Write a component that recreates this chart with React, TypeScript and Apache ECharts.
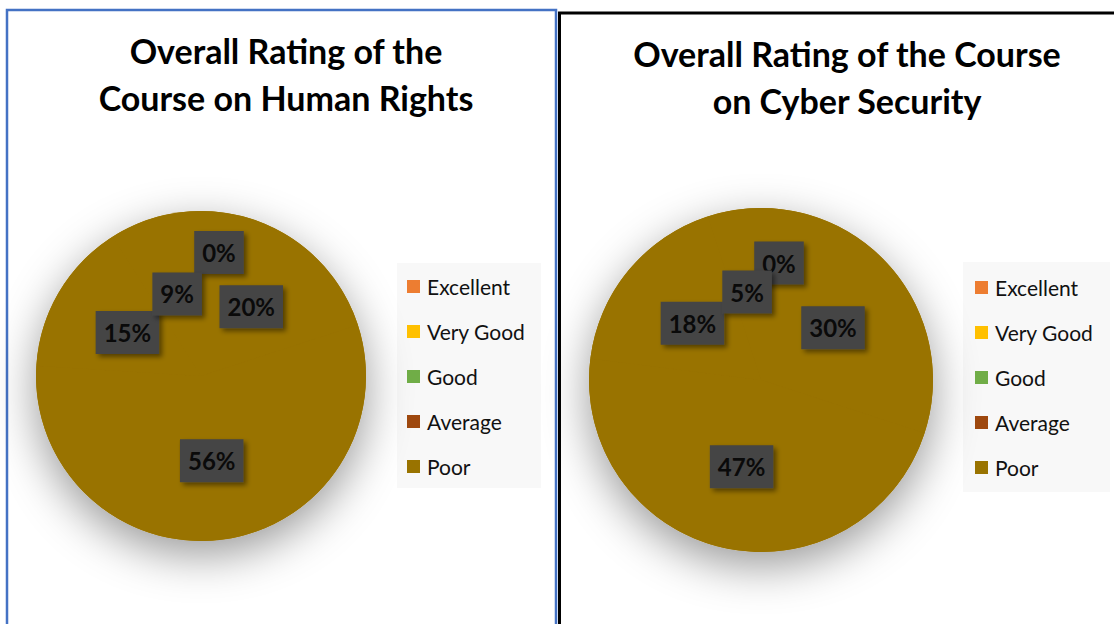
import React, { useEffect, useRef } from "react";
import * as echarts from "echarts";

const categories = ["Excellent", "Very Good", "Good", "Average", "Poor"];
const legendColors = ["#ED7D31", "#FFC000", "#70AD47", "#9E480E", "#997300"];
const humanRightsValues = [0, 20, 56, 15, 9];
const cyberSecurityValues = [0, 30, 47, 18, 5];
const titles = [
  "Overall Rating of the\nCourse on Human Rights",
  "Overall Rating of the Course\non Cyber Security",
];

const PIE_COLOR = "#997300";
const FONT = "Lato, 'Noto Sans', sans-serif";

export default function App() {
  const ref = useRef<HTMLDivElement>(null);
  useEffect(() => {
    if (!ref.current) return;
    const chart = echarts.init(ref.current, undefined, { renderer: "svg" });

    const labelStyle = {
      show: true,
      position: "inside",
      formatter: (p: any) => p.value + "%",
      fontFamily: FONT,
      fontSize: 24,
      fontWeight: "bold",
      color: "#0a0a0a",
      backgroundColor: "#454545",
      padding: [10, 8, 9, 8],
      shadowBlur: 5,
      shadowOffsetX: 3,
      shadowOffsetY: 3,
      shadowColor: "rgba(0,0,0,0.45)",
    };

    const mainPie = (values: number[], center: number[], radius: number, zeroShift: number[]) => ({
      type: "pie",
      center,
      radius,
      startAngle: 90,
      clockwise: true,
      silent: true,
      z: 3,
      itemStyle: { color: PIE_COLOR, borderWidth: 0 },
      label: labelStyle,
      labelLine: { show: false },
      emphasis: { disabled: true },
      labelLayout: (params: any) =>
        params.dataIndex === 0 ? { dx: zeroShift[0], dy: zeroShift[1] } : {},
      data: categories.map((name, i) => ({ name, value: values[i] })),
    });

    const shadowPie = (center: number[], radius: number) => ({
      type: "pie",
      center,
      radius,
      silent: true,
      z: 2,
      label: { show: false },
      labelLine: { show: false },
      emphasis: { disabled: true },
      itemStyle: {
        color: PIE_COLOR,
        borderWidth: 0,
        shadowBlur: 45,
        shadowOffsetY: 14,
        shadowColor: "rgba(0,0,0,0.4)",
      },
      data: [{ name: "_bg", value: 1 }],
    });

    const legend = (left: number, top: number) => ({
      orient: "vertical",
      left,
      top,
      padding: 0,
      icon: "rect",
      itemWidth: 13,
      itemHeight: 13,
      itemGap: 24,
      selectedMode: false,
      textStyle: {
        fontFamily: FONT,
        fontSize: 21,
        color: "#111",
        lineHeight: 20,
        padding: [0, 0, 0, 2],
      },
      data: categories.map((name, i) => ({ name, itemStyle: { color: legendColors[i] } })),
    });

    const titleStyle = { fontFamily: FONT, fontSize: 34, fontWeight: "bold", color: "#000", lineHeight: 47 };

    chart.setOption({
      animation: false,
      backgroundColor: "#ffffff",
      title: [
        { text: titles[0], left: 281, top: 22, textAlign: "center", textStyle: titleStyle },
        { text: titles[1], left: 842, top: 25, textAlign: "center", textStyle: titleStyle },
      ],
      graphic: [
        {
          type: "rect",
          z: 0,
          shape: { x: 7, y: 10, width: 549, height: 640 },
          style: { fill: "#ffffff", stroke: "#4472C4", lineWidth: 2.5 },
        },
        {
          type: "rect",
          z: 0,
          shape: { x: 559.5, y: 13, width: 600, height: 640 },
          style: { fill: "#ffffff", stroke: "#000000", lineWidth: 3 },
        },
        {
          type: "rect",
          z: 1,
          shape: { x: 397, y: 263, width: 144, height: 225 },
          style: { fill: "#F8F8F8" },
        },
        {
          type: "rect",
          z: 1,
          shape: { x: 963, y: 262, width: 147, height: 230 },
          style: { fill: "#F8F8F8" },
        },
      ],
      legend: [legend(407, 276), legend(975, 277)],
      series: [
        shadowPie([201, 376], 165),
        mainPie(humanRightsValues, [201, 376], 165, [18, -38]),
        shadowPie([761, 380], 172),
        mainPie(cyberSecurityValues, [761, 380], 172, [18, -28]),
      ],
    });
    return () => chart.dispose();
  }, []);

  return (
    <div
      ref={ref}
      style={{ position: "fixed", left: 0, top: 0, width: 1114, height: 624 }}
    />
  );
}
